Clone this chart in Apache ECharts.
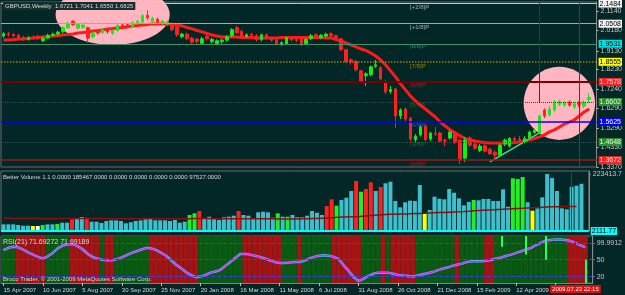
<!DOCTYPE html>
<html>
<head>
<meta charset="utf-8">
<script src="https://cdn.jsdelivr.net/npm/echarts@6.0.0/dist/echarts.min.js"></script>
<style>
  html, body { margin: 0; padding: 0; background: #032626; }
  #main { width: 625px; height: 295px; }
</style>
</head>
<body>
<div id="main"></div>
<script>
// GBPUSD weekly, first bar is the week of Sun 15 Apr 2007
const firstWeek = [2007, 3, 15]

// [open, close, low, high]
const candles = [
  [1.988,2.000,1.980,2.008],[2.000,1.995,1.985,2.010],[1.997,1.990,1.982,2.003],[1.992,1.982,1.975,2.000],
  [1.982,1.972,1.965,1.990],[1.972,1.980,1.966,1.988],[1.982,1.978,1.970,1.992],[1.986,1.978,1.970,1.995],
  [1.965,1.978,1.958,1.985],[1.978,1.992,1.972,2.000],[1.992,1.998,1.985,2.006],[1.998,2.008,1.990,2.015],
  [2.010,2.030,2.002,2.038],[2.030,2.052,2.025,2.060],[2.062,2.045,2.040,2.068],[2.028,2.046,2.020,2.052],
  [2.032,2.042,2.025,2.050],[2.030,1.978,1.955,2.035],[1.985,2.000,1.975,2.010],[2.010,2.004,1.995,2.018],
  [2.006,2.020,2.000,2.028],[2.025,2.010,2.000,2.030],[2.002,2.016,1.995,2.022],[2.016,2.040,2.010,2.048],
  [2.044,2.037,2.028,2.050],[2.045,2.038,2.030,2.052],[2.035,2.055,2.028,2.062],[2.050,2.062,2.045,2.070],
  [2.058,2.090,2.052,2.098],[2.092,2.080,2.068,2.116],[2.062,2.076,2.055,2.085],[2.072,2.058,2.050,2.080],
  [2.055,2.062,2.045,2.070],[2.048,2.058,2.040,2.066],[2.048,2.020,2.012,2.055],[2.035,1.995,1.985,2.040],
  [1.985,1.998,1.978,2.005],[1.998,1.975,1.968,2.005],[1.978,1.958,1.950,1.985],[1.972,1.962,1.950,1.980],
  [1.952,1.975,1.945,1.985],[1.986,1.975,1.965,1.995],[1.960,1.972,1.952,1.980],[1.950,1.965,1.942,1.972],
  [1.960,1.968,1.950,1.975],[1.968,1.985,1.960,1.992],[1.990,2.020,1.982,2.028],[2.030,2.005,1.998,2.040],
  [2.012,1.985,1.978,2.020],[1.985,1.995,1.978,2.002],[1.997,1.992,1.982,2.005],[1.990,1.970,1.962,1.998],
  [1.970,1.995,1.962,2.000],[1.995,1.980,1.972,2.002],[1.978,1.968,1.960,1.985],[1.968,1.950,1.942,1.975],
  [1.948,1.955,1.938,1.962],[1.950,1.980,1.945,1.986],[1.975,1.970,1.962,1.982],[1.970,1.967,1.958,1.978],
  [1.975,1.945,1.938,1.980],[1.950,1.972,1.942,1.978],[1.975,1.990,1.968,1.998],[1.995,1.985,1.975,2.002],
  [1.980,1.992,1.972,1.998],[1.988,1.998,1.980,2.005],[2.000,1.990,1.982,2.007],[1.990,1.980,1.970,1.995],
  [1.975,1.920,1.915,1.980],[1.920,1.862,1.855,1.925],[1.870,1.862,1.845,1.878],[1.862,1.820,1.812,1.870],
  [1.815,1.762,1.755,1.820],[1.790,1.800,1.740,1.808],[1.795,1.835,1.788,1.842],[1.838,1.845,1.830,1.870],
  [1.830,1.775,1.768,1.838],[1.760,1.710,1.700,1.768],[1.712,1.722,1.700,1.740],[1.725,1.590,1.530,1.730],
  [1.590,1.620,1.575,1.628],[1.625,1.575,1.560,1.632],[1.580,1.475,1.465,1.585],[1.472,1.490,1.460,1.500],
  [1.495,1.535,1.488,1.545],[1.540,1.472,1.465,1.548],[1.475,1.505,1.465,1.512],[1.505,1.500,1.490,1.535],
  [1.505,1.465,1.455,1.512],[1.470,1.466,1.440,1.478],[1.480,1.510,1.472,1.520],[1.500,1.460,1.450,1.508],
  [1.470,1.375,1.350,1.478],[1.380,1.470,1.360,1.485],[1.480,1.445,1.435,1.490],[1.448,1.430,1.420,1.460],
  [1.418,1.440,1.410,1.450],[1.442,1.415,1.408,1.450],[1.425,1.402,1.395,1.432],[1.410,1.395,1.372,1.418],
  [1.395,1.445,1.385,1.452],[1.450,1.470,1.440,1.478],[1.440,1.478,1.432,1.485],[1.478,1.470,1.455,1.488],
  [1.475,1.470,1.455,1.490],[1.465,1.478,1.455,1.490],[1.480,1.510,1.472,1.518],[1.508,1.520,1.500,1.528],
  [1.505,1.590,1.500,1.598],[1.620,1.590,1.580,1.628],[1.595,1.625,1.588,1.640],[1.620,1.660,1.612,1.670],
  [1.648,1.662,1.640,1.672],[1.645,1.655,1.635,1.665],[1.660,1.645,1.635,1.668],[1.635,1.650,1.625,1.660],
  [1.655,1.648,1.635,1.665],[1.640,1.658,1.630,1.668],[1.6721,1.6825,1.6550,1.7041]
]

// red moving average on price
const ma = [
  1.969,1.969,1.971,1.974,1.974,1.976,1.979,1.981,1.984,1.986,1.989,1.991,1.994,1.996,1.999,2.004,2.006,2.009,2.014,2.016,
  2.019,2.024,2.026,2.029,2.031,2.034,2.039,2.041,2.044,2.046,2.049,2.049,2.049,2.049,2.046,2.044,2.039,2.031,2.024,2.016,
  2.009,2.001,1.994,1.989,1.984,
  1.984,1.984,1.984,1.981,1.981,1.981,1.979,1.979,1.979,1.979,1.979,1.981,1.981,1.981,1.981,1.981,1.981,1.981,1.981,1.981,1.979,1.979,
  1.971,1.964,1.954,1.944,1.934,1.924,1.917,1.904,1.889,1.869,1.844,1.815,1.785,1.750,1.720,1.690,1.665,1.645,1.625,1.605,
  1.585,1.560,1.540,1.521,1.506,1.491,1.478,1.471,1.466,1.461,1.458,1.456,1.456,1.456,1.456,1.456,1.458,1.461,1.466,1.471,
  1.478,1.486,1.496,1.511,1.521,1.535,1.550,1.560,1.570,1.590,1.610,1.625
]

// Murrey math levels
const levels = [2.1484, 2.0508, 1.9531, 1.8555, 1.7578, 1.6602, 1.5625, 1.4648, 1.3672]
const levelNames = ['[+2/8]P', '[+1/8]P', '[8/8]P', '[7/8]P', '[6/8]P', '[5/8]P', '[4/8]P', '[3/8]P', '[2/8]P']
const priceTicks = [2.1140, 2.0180, 1.9130, 1.8230, 1.7240, 1.6290, 1.5290, 1.4330, 1.3370]

// green trend line [bar, price]
const trend = [[98, 1.362], [108, 1.506]]

// volume, thousands
const volume = [
  28.0,28.0,28.0,25.4,22.7,22.7,21.5,21.5,25.4,28.0,
  28.0,29.3,34.3,34.3,47.5,51.4,56.4,53.7,38.2,38.2,
  33.2,40.9,43.6,43.6,40.9,32.0,35.9,40.9,43.6,47.5,
  51.4,43.6,43.6,43.6,40.9,44.8,34.3,38.2,64.2,70.8,
  79.7,51.4,57.6,51.4,44.8,55.3,57.6,61.5,79.7,64.2,
  61.5,51.4,74.7,77.0,74.7,53.7,70.8,57.6,57.6,
  64.2,55.3,55.3,61.5,79.7,73.1,64.2,99.1,125.1,100.3,
  122.4,131.3,157.3,196.1,154.6,165.1,191.1,157.3,172.8,187.2,
  193.4,118.5,94.0,113.5,119.7,118.5,180.6,70.8,83.6,135.2,
  127.4,125.1,165.1,150.7,129.0,101.8,114.6,122.4,121.2,126.3,
  126.3,118.5,118.5,163.9,96.4,206.6,203.9,211.6,113.5,80.9,
  90.2,132.9,223.4137,207.7,157.3,90.2,86.3,174.0,177.9,185.467
]
// c cyan, r red, g green, y yellow, w white
const volColor = ('cccccc ywg cc g cc r cc r cccccccccccccccccccc ggr ccccccc r ccccccc gcg ccccccc ' +
  'rrg ccc rgrrcr cccccccc y ccccccccc g ccccccc gggcy cccccccccc').replace(/ /g, '')
const volMa = [
  51.4,51.2,51.0,51.0,50.8,50.6,50.4,50.2,50.0,50.0,50.0,50.2,50.4,50.6,50.8,51.0,51.0,50.8,50.6,
  50.4,50.2,50.0,50.0,50.0,49.8,49.6,49.6,49.8,50.0,50.2,50.2,50.0,49.8,49.6,49.4,49.4,49.6,49.8,50.0,
  50.2,50.4,50.4,50.2,50.0,49.8,49.6,49.4,49.4,49.6,49.8,50.0,50.0,49.8,49.6,49.4,49.2,49.0,48.8,48.7,
  48.7,49.0,49.5,50.0,50.5,51.0,52.0,53.0,54.0,55.0,56.0,56.8,57.2,
  57.6,59.0,60.5,62.0,63.5,65.0,66.0,
  67.0,67.5,68.0,68.5,69.0,69.8,70.3,
  70.8,71.7,72.6,73.5,74.4,75.3,76.2,
  77.0,78.0,79.2,80.5,81.5,82.6,
  83.6,84.5,85.5,86.5,87.5,88.5,89.3,
  90.0,91.0,92.0,93.0,94.0,95.0,95.8,
  96.4,96.8,97.0,97.3,97.527
]

// RSI(21)
const rsi = [
  67,71,73,72,68,63,59,55,52,56, 62,70,75,77,78,74,69,61,55,52,
  50,49,49,51,54,58,62,65,68,71, 70,67,62,57,49,41,35,28,23,19,
  20,23,27,29,32,39,46,53,60,60, 59,57,55,52,49,46,44,44,45,46,
  46,48,52,55,57,58,57,55,51,40, 30,19,12,16,21,25,27,27,27,25,
  23,22,21,20,22,24,26,28,31,34, 36,39,41,43,46,47,47,47,48,50,
  52,54,57,59,62,65,68,71,76,80, 84,85,86,86,85,83,80,76,71.7
]
// g green band, r red band
const rsiBand = ('ggg rrrrrr ggggg rrrrrr g rr ggggggg rrrrrrrrrr ggggggggg rrrrrrrr ggg r gggggg rrrrrr ' +
  'gggg r g rrrrr gggggggg r ggggg rr ggggggggggggggg rrrr').replace(/ /g, '')
const rsiLevels = [80, 50, 20]
const rsiAxisAt = [80, 50, 20, 11]
const rsiAxisText = ['99.9912', '50', '20', '0.13464']
// light green spikes hanging in the RSI window
const spikeBar = [101, 106, 110, 118]
const spikeTop = [92, 92, 92, 50]
const spikeBottom = [73, 59, 50, 8.6]

const FONT = "'Liberation Sans',Arial,sans-serif"
const months = ['Jan','Feb','Mar','Apr','May','Jun','Jul','Aug','Sep','Oct','Nov','Dec']
let dates = []
let d = Date.UTC(firstWeek[0], firstWeek[1], firstWeek[2])
for (let i = 0; i < candles.length; i++) {
  let t = new Date(d + i * 7 * 864e5)
  dates.push(t.getUTCDate() + ' ' + months[t.getUTCMonth()] + ' ' + t.getUTCFullYear())
}
let cats = dates.concat([''])  // empty slot at the right edge

const levelStyle = [
  { line: '#c8c8c8', type: 'solid', width: 1, bg: '#f4f4f4', fg: '#000', name: '#d0d0d0' },
  { line: '#a8a8a8', type: 'solid', width: 1, bg: '#f4f4f4', fg: '#000', name: '#d0d0d0' },
  { line: '#3f8f6a', type: 'solid', width: 1, bg: '#00e0e0', fg: '#000', name: '#3fa080' },
  { line: '#9a8400', type: 'dotted', width: 1.5, bg: '#ffff00', fg: '#000', name: '#b09a00' },
  { line: '#7a0000', type: 'solid', width: 2, bg: '#ff2020', fg: '#ffe0e0', name: '#cc2020' },
  { line: '#3a4a44', type: 'dotted', width: 1, bg: '#2f8f2f', fg: '#e0ffe0', name: '#2a7a2a' },
  { line: '#0000ff', type: 'solid', width: 1.5, bg: '#0000ff', fg: '#ffffff', name: '#2f4fff' },
  { line: '#1a6a1a', type: 'dotted', width: 1, bg: '#2f8f2f', fg: '#e0ffe0', name: '#2a7a2a' },
  { line: '#a01818', type: 'solid', width: 1.5, bg: '#ff2020', fg: '#ffe0e0', name: '#cc2020' }
]
const volPalette = { c: '#3fbfcc', r: '#ff2020', g: '#22ee22', y: '#ffff00', w: '#ffffff' }
const tinyText = { color: '#d8d8d8', fontSize: 6, fontWeight: 'normal', fontFamily: FONT }
const smallText = { color: '#d8d8d8', fontSize: 7, fontWeight: 'normal', fontFamily: FONT }

let chartDom = document.getElementById('main')
let myChart = echarts.init(chartDom)

let grids = [
  { left: 1, right: 27, top: 2, height: 165 },
  { left: 1, right: 27, top: 171, height: 60 },
  { left: 1, right: 27, top: 236, height: 47 }
].map(g => Object.assign(g, { show: true, borderColor: '#6a6a6a', borderWidth: 1, backgroundColor: 'transparent' }))

let xAxes = [0, 1, 2].map(i => ({
  type: 'category', gridIndex: i, data: cats, boundaryGap: true, show: i === 2,
  axisLine: { lineStyle: { color: '#808080' } },
  axisTick: { show: true, length: 3, alignWithLabel: true, interval: idx => idx % 8 === 0, lineStyle: { color: '#c0c0c0' } },
  axisLabel: { interval: idx => idx % 8 === 0, align: 'left', color: '#d8d8d8', fontSize: 6, margin: 4, fontFamily: FONT },
  splitLine: { show: false }
}))

let yAxes = [
  {
    gridIndex: 0, position: 'right', min: 1.336, max: 2.158,
    axisLine: { show: true, lineStyle: { color: '#8a8a8a' } },
    axisTick: { show: true, customValues: priceTicks, length: 2, lineStyle: { color: '#c0c0c0' } },
    axisLabel: { customValues: priceTicks, formatter: v => v.toFixed(4), color: '#c8c8c8', fontSize: 7, margin: 4, fontFamily: FONT },
    splitLine: { show: false }
  },
  {
    gridIndex: 1, position: 'right', min: 2111.77, max: 235000,
    axisLine: { show: true, lineStyle: { color: '#8a8a8a' } },
    axisTick: { show: true, customValues: [223413.7], length: 2 },
    axisLabel: { customValues: [223413.7], formatter: () => '223413.7', color: '#c8c8c8', fontSize: 7, margin: 4, fontFamily: FONT },
    splitLine: { show: false }
  },
  {
    gridIndex: 2, position: 'right', min: 8.6, max: 92,
    axisLine: { show: true, lineStyle: { color: '#8a8a8a' } },
    axisTick: { show: true, customValues: rsiAxisAt, length: 2 },
    axisLabel: { customValues: rsiAxisAt, formatter: v => rsiAxisText[rsiAxisAt.indexOf(v)], color: '#c8c8c8', fontSize: 7, margin: 4, fontFamily: FONT },
    splitLine: { show: false }
  }
]

let option = {
  backgroundColor: '#032626',
  animation: false,
  title: [
    { text: 'GBPUSD,Weekly  1.6721 1.7041 1.6550 1.6825', left: 3, top: 2, padding: [1, 2], backgroundColor: '#14302e', textStyle: tinyText, z: 10 },
    { text: 'Better Volume 1.1 0.0000 185467.0000 0.0000 0.0000 0.0000 0.0000 97527.0000', left: 3, top: 174, padding: 0, textStyle: tinyText },
    { text: 'RSI(21) 71.69272 71.69189', left: 3, top: 239, padding: 0, textStyle: smallText, z: 10 },
    { text: 'Broco Trader, © 2001-2009 MetaQuotes Software Corp.', left: 3, top: 276, padding: 0, textStyle: tinyText, z: 10 }
  ],
  grid: grids,
  xAxis: xAxes,
  yAxis: yAxes,
  series: [
    // level names + level lines (under the top-left oval)
    {
      type: 'scatter', xAxisIndex: 0, yAxisIndex: 0, z: 1, symbolSize: 1, silent: true,
      itemStyle: { color: 'transparent' },
      data: levels.map((v, i) => ({
        value: [dates[82], v],
        label: { show: true, formatter: levelNames[i], position: [0, 1], color: levelStyle[i].name, fontSize: 6, fontFamily: FONT }
      })),
      markLine: {
        silent: true, symbol: 'none',
        data: levels.map((v, i) => ({
          yAxis: v,
          lineStyle: { color: levelStyle[i].line, type: levelStyle[i].type, width: levelStyle[i].width },
          label: {
            show: true, position: 'end', distance: 2, formatter: v.toFixed(4),
            backgroundColor: levelStyle[i].bg, color: levelStyle[i].fg, fontSize: 7, padding: [1, 1, 0, 1], fontFamily: FONT
          }
        }))
      }
    },
    {
      type: 'line', xAxisIndex: 0, yAxisIndex: 0, data: ma, symbol: 'none', z: 3,
      lineStyle: { color: '#ff1a1a', width: 3 },
      markLine: {
        silent: true, symbol: 'none', label: { show: false },
        data: [
          [{ coord: [dates[108], 2.158], lineStyle: { color: '#1a1aff', width: 1, type: 'solid' } }, { coord: [dates[108], 1.655] }],
          { xAxis: dates[116], lineStyle: { color: '#a01818', width: 1, type: 'solid' } }
        ]
      }
    },
    {
      type: 'candlestick', xAxisIndex: 0, yAxisIndex: 0, data: candles, barWidth: 3, z: 4,
      itemStyle: { color: '#00ff00', color0: '#ff2020', borderColor: '#22dd22', borderColor0: '#ff2020', borderWidth: 1 }
    },
    {
      type: 'line', xAxisIndex: 0, yAxisIndex: 0, z: 4, symbol: 'none',
      data: trend.map(p => [dates[p[0]], p[1]]),
      lineStyle: { color: '#3ee08a', width: 1.5 }
    },
    // volume
    {
      type: 'bar', xAxisIndex: 1, yAxisIndex: 1, barWidth: 4, z: 2,
      data: volume.map((v, i) => ({ value: v * 1000, itemStyle: { color: volPalette[volColor[i]] } })),
      markLine: {
        silent: true, symbol: 'none',
        data: [
          {
            yAxis: 2111.77, lineStyle: { color: '#00ffff', width: 2, type: 'solid' },
            label: { show: true, position: 'end', distance: 2, formatter: '2111.77', backgroundColor: '#00ffff', color: '#000', fontSize: 7, padding: [1, 1, 0, 1], fontFamily: FONT }
          },
          { xAxis: dates[116], lineStyle: { color: '#a01818', width: 1, type: 'solid' }, label: { show: false } }
        ]
      }
    },
    {
      type: 'line', xAxisIndex: 1, yAxisIndex: 1, z: 3, symbol: 'none',
      data: volMa.map(v => v * 1000),
      lineStyle: { color: '#8b1010', width: 1.5 }
    },
    // RSI window
    {
      type: 'bar', xAxisIndex: 2, yAxisIndex: 2, barWidth: '100%', barCategoryGap: '0%', z: 1, silent: true,
      data: rsiBand.split('').map(c => ({ value: 92, itemStyle: { color: c === 'g' ? '#0b5a14' : '#a31515' } }))
    },
    {
      type: 'line', xAxisIndex: 2, yAxisIndex: 2, z: 3, symbol: 'none', data: rsi,
      lineStyle: { color: '#6aa8ff', width: 2.5 }
    },
    {
      type: 'line', xAxisIndex: 2, yAxisIndex: 2, z: 4, symbol: 'none', data: rsi,
      lineStyle: { color: '#ff00ff', width: 1 },
      markLine: {
        silent: true, symbol: 'none',
        data: rsiLevels.map(v => ({ yAxis: v, lineStyle: { color: '#3a3aff', type: 'dashed', width: 1 }, label: { show: false } }))
          .concat(spikeBar.map((b, i) => [
            { coord: [dates[b], spikeTop[i]], lineStyle: { color: '#22ff66', width: 2, type: 'solid' }, label: { show: false } },
            { coord: [dates[b], spikeBottom[i]] }
          ]))
          .concat([{
            xAxis: dates[116], lineStyle: { color: '#a01818', width: 1, type: 'solid' },
            label: { show: true, position: 'start', distance: 2, formatter: '2009.07.23 22:15', backgroundColor: '#e01010', color: '#ffffff', fontSize: 6, padding: [1, 2], fontFamily: FONT }
          }])
      }
    }
  ]
}
myChart.setOption(option)

// pink ovals drawn on the price window
const ovals = [
  { bar: 22, price: 2.094, halfBars: 11.5, halfPrice: 0.150, z: 2 },
  { bar: 112, price: 1.653, halfBars: 7.2, halfPrice: 0.182, z: 0.5 }
]
let finder = { xAxisIndex: 0, yAxisIndex: 0 }
let bw = myChart.convertToPixel(finder, [dates[1], 2])[0] - myChart.convertToPixel(finder, [dates[0], 2])[0]
myChart.setOption({
  graphic: ovals.map(o => {
    let c = myChart.convertToPixel(finder, [dates[o.bar], o.price])
    let top = myChart.convertToPixel(finder, [dates[o.bar], o.price + o.halfPrice])
    return {
      type: 'ellipse', silent: true, z: o.z,
      shape: { cx: c[0], cy: c[1], rx: o.halfBars * bw, ry: c[1] - top[1] },
      style: { fill: '#ffb6c1' }
    }
  })
})
</script>
</body>
</html>
